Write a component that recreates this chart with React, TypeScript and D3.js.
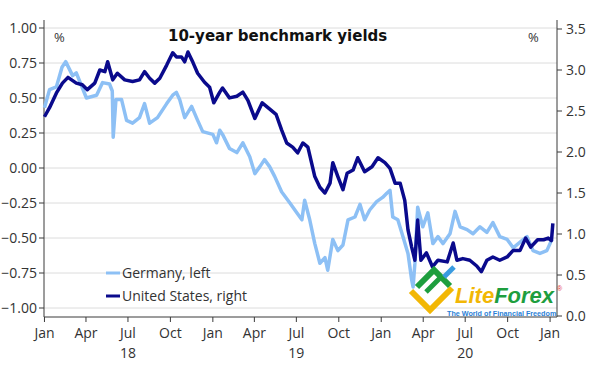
import React from "react";
import * as d3 from "d3";

const deDates = ["2018-01-01","2018-01-12","2018-01-27","2018-02-08","2018-02-16","2018-03-03","2018-03-11","2018-04-02","2018-04-24","2018-05-07","2018-05-22","2018-05-28","2018-05-30","2018-06-05","2018-06-17","2018-06-28","2018-07-11","2018-07-26","2018-08-06","2018-08-17","2018-09-03","2018-09-23","2018-10-06","2018-10-14","2018-10-21","2018-11-01","2018-11-16","2018-11-29","2018-12-10","2019-01-01","2019-01-09","2019-01-16","2019-01-22","2019-02-06","2019-02-22","2019-03-07","2019-03-22","2019-04-02","2019-04-13","2019-04-23","2019-05-04","2019-05-15","2019-05-30","2019-06-17","2019-07-02","2019-07-13","2019-07-19","2019-07-30","2019-08-10","2019-08-21","2019-09-01","2019-09-07","2019-09-18","2019-09-29","2019-10-10","2019-10-21","2019-11-05","2019-11-16","2019-11-26","2019-12-07","2019-12-22","2020-01-04","2020-01-13","2020-01-20","2020-01-26","2020-02-06","2020-02-17","2020-02-28","2020-03-07","2020-03-10","2020-03-14","2020-03-20","2020-03-31","2020-04-11","2020-04-22","2020-05-03","2020-05-14","2020-05-29","2020-06-09","2020-06-20","2020-07-05","2020-07-18","2020-08-02","2020-08-17","2020-08-30","2020-09-14","2020-09-30","2020-10-13","2020-10-28","2020-11-12","2020-11-25","2020-12-10","2020-12-25","2021-01-05"];
const deValues = [0.43,0.56,0.58,0.72,0.76,0.66,0.68,0.50,0.52,0.61,0.60,0.55,0.22,0.49,0.49,0.34,0.32,0.36,0.46,0.32,0.36,0.46,0.52,0.54,0.49,0.36,0.44,0.34,0.26,0.24,0.18,0.27,0.24,0.14,0.11,0.18,0.08,-0.04,0.01,0.06,0.01,-0.06,-0.17,-0.25,-0.32,-0.37,-0.23,-0.37,-0.54,-0.68,-0.64,-0.73,-0.51,-0.59,-0.55,-0.37,-0.35,-0.26,-0.37,-0.30,-0.24,-0.21,-0.18,-0.16,-0.35,-0.37,-0.49,-0.61,-0.80,-0.85,-0.68,-0.28,-0.42,-0.32,-0.54,-0.49,-0.54,-0.47,-0.31,-0.42,-0.44,-0.47,-0.42,-0.46,-0.39,-0.49,-0.51,-0.57,-0.53,-0.49,-0.59,-0.61,-0.59,-0.51];

const usDates = ["2018-01-01","2018-01-12","2018-01-27","2018-02-09","2018-02-21","2018-03-11","2018-03-24","2018-04-04","2018-04-20","2018-05-01","2018-05-12","2018-05-18","2018-05-29","2018-06-08","2018-06-24","2018-07-11","2018-07-26","2018-08-06","2018-08-17","2018-08-28","2018-09-08","2018-09-23","2018-10-06","2018-10-14","2018-10-25","2018-11-01","2018-11-08","2018-11-19","2018-11-29","2018-12-14","2018-12-25","2019-01-03","2019-01-16","2019-01-22","2019-02-06","2019-02-22","2019-03-07","2019-03-18","2019-04-02","2019-04-18","2019-05-07","2019-05-18","2019-05-30","2019-06-10","2019-06-23","2019-07-04","2019-07-15","2019-07-26","2019-08-10","2019-08-21","2019-09-01","2019-09-12","2019-09-18","2019-09-29","2019-10-10","2019-10-19","2019-11-01","2019-11-11","2019-11-26","2019-12-12","2019-12-25","2020-01-09","2020-01-20","2020-01-31","2020-02-11","2020-02-21","2020-02-28","2020-03-07","2020-03-14","2020-03-20","2020-03-27","2020-04-08","2020-04-21","2020-05-03","2020-05-23","2020-06-05","2020-06-13","2020-06-26","2020-07-11","2020-07-26","2020-08-05","2020-08-17","2020-08-30","2020-09-14","2020-09-30","2020-10-13","2020-10-28","2020-11-09","2020-11-20","2020-12-05","2020-12-18","2020-12-28","2021-01-04","2021-01-07"];
const usValues = [2.43,2.54,2.72,2.84,2.91,2.84,2.82,2.76,2.84,3.00,2.98,3.10,2.88,2.96,2.88,2.86,2.88,2.98,2.90,2.84,2.90,3.06,3.21,3.16,3.16,3.10,3.22,3.09,2.96,2.85,2.79,2.60,2.73,2.78,2.66,2.68,2.73,2.63,2.41,2.60,2.51,2.46,2.27,2.11,2.06,1.99,2.11,2.06,1.70,1.57,1.50,1.62,1.87,1.70,1.54,1.74,1.78,1.93,1.76,1.82,1.93,1.87,1.80,1.62,1.62,1.41,1.05,0.84,0.68,1.17,0.68,0.77,0.60,0.68,0.66,0.89,0.68,0.70,0.68,0.61,0.54,0.68,0.72,0.68,0.72,0.80,0.80,0.95,0.84,0.93,0.93,0.95,0.92,1.13];

const leftTicks = [1.0, 0.75, 0.5, 0.25, 0.0, -0.25, -0.5, -0.75, -1.0];
const rightTicks = [3.5, 3.0, 2.5, 2.0, 1.5, 1.0, 0.5, 0.0];
const yearLabels = ["18", "19", "20"];
const seriesNames = ["Germany, left", "United States, right"];
const title = "10-year benchmark yields";

const parse = d3.timeParse("%Y-%m-%d");

export default function App() {
  const x = d3.scaleTime()
    .domain([new Date(2017, 11, 31), new Date(2021, 0, 16)])
    .range([44, 557]);
  const yL = d3.scaleLinear().domain([-1, 1]).range([308, 28]);
  const yR = d3.scaleLinear().domain([0, 3.5]).range([316, 29]);

  const de = deDates.map((d, i) => ({ d: parse(d)!, v: deValues[i] }));
  const us = usDates.map((d, i) => ({ d: parse(d)!, v: usValues[i] }));

  const lineDE = d3.line<{ d: Date; v: number }>().x(p => x(p.d)).y(p => yL(p.v));
  const lineUS = d3.line<{ d: Date; v: number }>().x(p => x(p.d)).y(p => yR(p.v));

  const xTicks = d3.timeMonth.every(3)!.range(new Date(2018, 0, 1), new Date(2021, 0, 2));
  const fmtMonth = d3.timeFormat("%b");
  const julTicks = xTicks.filter(t => t.getMonth() === 6);

  const font = "'Open Sans', 'Noto Sans', sans-serif";
  const axisColor = "#3a3a3a";
  const deColor = "#8DC0F5";
  const usColor = "#0A0A8C";
  const top = 20, bottom = 317, left = 44, right = 557;
  const logoFont = "'Liberation Sans', Arial, sans-serif";

  return (
    <svg width={595} height={365} style={{ position: "absolute", left: 0, top: 0, background: "#fff" }}
      fontFamily={font}>
      <rect x={0} y={0} width={595} height={365} fill="#fff" />
      {leftTicks.map(t => (
        <line key={"g" + t} x1={left} x2={right} y1={yL(t)} y2={yL(t)} stroke="#dcdcdc" strokeWidth={1} />
      ))}
      <line x1={left} x2={left} y1={top} y2={bottom} stroke={axisColor} strokeWidth={1} />
      {leftTicks.map(t => (
        <g key={"l" + t}>
          <line x1={left - 5} x2={left} y1={yL(t)} y2={yL(t)} stroke={axisColor} />
          <text x={37} y={yL(t) + 5} textAnchor="end" fontSize={14} fill="#333">{d3.format(".2f")(t)}</text>
        </g>
      ))}
      <line x1={right} x2={right} y1={top} y2={bottom} stroke={axisColor} strokeWidth={1} />
      {rightTicks.map(t => (
        <g key={"r" + t}>
          <line x1={right} x2={right + 5} y1={yR(t)} y2={yR(t)} stroke={axisColor} />
          <text x={566} y={yR(t) + 5} textAnchor="start" fontSize={14} fill="#333">{d3.format(".1f")(t)}</text>
        </g>
      ))}
      <line x1={left} x2={right} y1={bottom} y2={bottom} stroke={axisColor} strokeWidth={1} />
      {xTicks.map(t => (
        <g key={"x" + t.getTime()}>
          <line x1={x(t)} x2={x(t)} y1={bottom} y2={bottom + 5} stroke={axisColor} />
          <text x={x(t)} y={338} textAnchor="middle" fontSize={14} fill="#333">{fmtMonth(t)}</text>
        </g>
      ))}
      {julTicks.map((t, i) => (
        <text key={"y" + i} x={x(t)} y={358} textAnchor="middle" fontSize={14} fill="#333">{yearLabels[i]}</text>
      ))}
      <text x={54} y={42} fontSize={13} fill="#333">%</text>
      <text x={528} y={42} fontSize={13} fill="#333">%</text>
      <text x={168} y={41} fontSize={15} fontWeight="bold" fontFamily="'DejaVu Sans', Verdana, sans-serif" fill="#111">{title}</text>
      <path d={lineDE(de) || ""} fill="none" stroke={deColor} strokeWidth={3.5} strokeLinejoin="round" />
      <path d={lineUS(us) || ""} fill="none" stroke={usColor} strokeWidth={3.5} strokeLinejoin="round" />
      <line x1={106} x2={120} y1={273} y2={273} stroke={deColor} strokeWidth={3} />
      <text x={122} y={278} fontSize={14} fill="#333">{seriesNames[0]}</text>
      <line x1={106} x2={120} y1={296} y2={296} stroke={usColor} strokeWidth={3} />
      <text x={122} y={301} fontSize={14} fill="#333">{seriesNames[1]}</text>
      <g>
        <polyline points="411,291 430,310 452,288" fill="none" stroke="#F2B705" strokeWidth={6} />
        <polyline points="417,287 434,270 450,286" fill="none" stroke="#1E9E3E" strokeWidth={6} />
        <polyline points="426,292 440,278" fill="none" stroke="#1E9E3E" strokeWidth={5} />
        <polyline points="444,277 454,267" fill="none" stroke="#3A9BE0" strokeWidth={5} />
        <text x={455} y={303} fontSize={22} fontWeight="bold" fontStyle="italic" fontFamily={logoFont}>
          <tspan fill="#F2B705">Lite</tspan><tspan fill="#1E9E3E">Forex</tspan>
        </text>
        <text x={557} y={291} fontSize={7} fill="#E0303A" fontFamily={logoFont}>®</text>
        <text x={447} y={316} fontSize={7.2} fontWeight="bold" fill="#2B7FD6" fontFamily={logoFont}>The World of Financial Freedom</text>
      </g>
    </svg>
  );
}
